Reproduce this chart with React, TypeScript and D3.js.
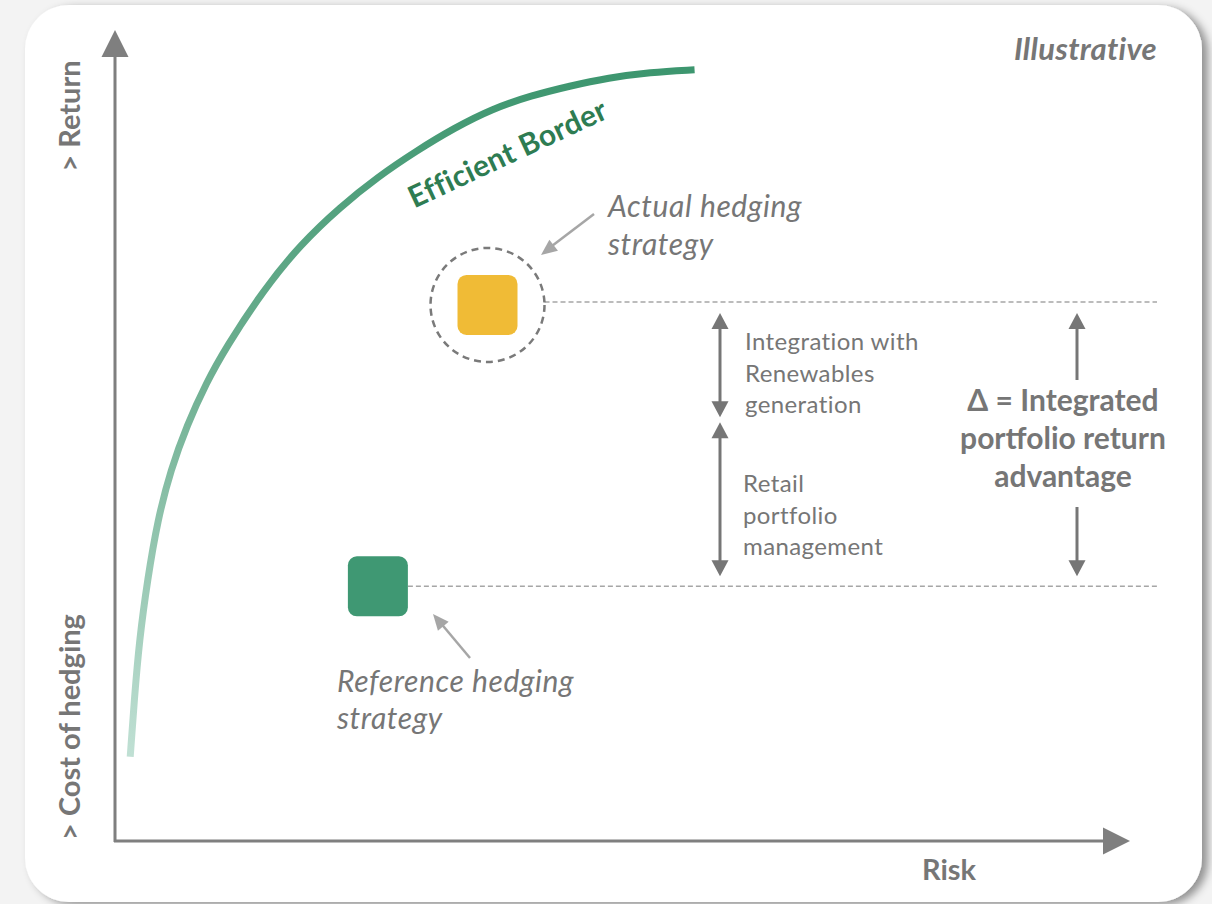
import * as d3 from "d3";

const W = 1212;
const H = 904;

// efficient frontier, illustrative units (risk 0-100, return 0-100)
const frontierRisk = [1.5, 1.9, 2.4, 3.2, 4.2, 5.5, 7.1, 9.0, 10.9, 14.6, 18.3, 22.2, 25.9, 29.7, 33.4, 37.2, 41.0, 44.8, 48.6, 52.7, 57.1];
const frontierReturn = [10.4, 17.4, 24.8, 32.2, 39.6, 45.8, 51.3, 56.5, 60.8, 67.9, 73.6, 78.2, 81.9, 85.1, 87.9, 90.3, 91.9, 93.1, 94.1, 94.8, 95.1];

// the two hedging strategies
const strategyNames = ["Reference hedging", "Actual hedging"];
const strategyRisk = [25.9, 36.7];
const strategyReturn = [31.4, 66.1];
const strategyColors = ["#3f9873", "#f0bb36"];

// split of the return gap between the two strategies
const splitReturn = 52.0;
const splitLabels = [
  ["Integration with", "Renewables", "generation"],
  ["Retail", "portfolio", "management"],
];
const deltaLabel = ["\u0394 = Integrated", "portfolio return", "advantage"];

const GREY = "#767676";
const FONT = "Lato, 'Open Sans', sans-serif";

function head(tx: number, ty: number, fx: number, fy: number, len: number, wid: number) {
  const a = Math.atan2(ty - fy, tx - fx);
  const bx = tx - len * Math.cos(a);
  const by = ty - len * Math.sin(a);
  const nx = -Math.sin(a) * wid / 2;
  const ny = Math.cos(a) * wid / 2;
  return `${tx},${ty} ${bx + nx},${by + ny} ${bx - nx},${by - ny}`;
}

export default function App() {
  const x = d3.scaleLinear([0, 100], [115, 1130]);
  const y = d3.scaleLinear([0, 100], [841, 30]);

  const pts = frontierRisk.map((r, i) => [x(r), y(frontierReturn[i])] as [number, number]);
  const line = d3.line().curve(d3.curveBasis);

  const refX = x(strategyRisk[0]);
  const refY = y(strategyReturn[0]);
  const actX = x(strategyRisk[1]);
  const actY = y(strategyReturn[1]);
  const midY = y(splitReturn);
  const sq = 60;
  const ring = 57;
  const lineEnd = 1157;
  const bx = 720;
  const dx = 1077;

  return (
    <svg width={W} height={H} style={{ position: "absolute", left: 0, top: 0 }} fontFamily={FONT}>
      <defs>
        <filter id="shadow" x="-5%" y="-5%" width="110%" height="110%">
          <feDropShadow dx="6" dy="3" stdDeviation="4" floodColor="#000" floodOpacity="0.4" />
        </filter>
        <linearGradient id="frontierGrad" gradientUnits="userSpaceOnUse" x1="0" y1={pts[0][1]} x2="0" y2={pts[pts.length - 1][1]}>
          <stop offset="0" stopColor="#c0e0d4" />
          <stop offset="0.55" stopColor="#6fb092" />
          <stop offset="1" stopColor="#3d966f" />
        </linearGradient>
      </defs>

      <rect width={W} height={H} fill="#f3f3f3" />
      <rect x={25} y={5} width={1177} height={897} rx={44} fill="#fff" filter="url(#shadow)" />

      {/* axes */}
      <line x1={x(0)} x2={x(0)} y1={y(0) + 1} y2={y(100) + 24} stroke="#7f7f7f" strokeWidth={3} />
      <polygon points={head(x(0), y(100), x(0), y(0), 27, 27)} fill="#7f7f7f" />
      <line x1={x(0) - 1} x2={x(100) - 24} y1={y(0)} y2={y(0)} stroke="#7f7f7f" strokeWidth={3} />
      <polygon points={head(x(100), y(0), x(0), y(0), 27, 27)} fill="#7f7f7f" />

      <text transform="translate(80,116) rotate(-90)" textAnchor="middle" fontSize={29} fontWeight="bold" fill={GREY}>
        &gt; Return
      </text>
      <text transform="translate(80,727) rotate(-90)" textAnchor="middle" fontSize={29} fontWeight="bold" fill={GREY}>
        &gt; Cost of hedging
      </text>
      <text x={949} y={880} textAnchor="middle" fontSize={29} fontWeight="bold" fill={GREY}>
        Risk
      </text>
      <text x={1157} y={60} textAnchor="end" fontSize={31} fontWeight="bold" fontStyle="italic" letterSpacing={0.3} fill={GREY}>
        Illustrative
      </text>

      {/* efficient frontier */}
      <path d={line(pts) ?? ""} fill="none" stroke="url(#frontierGrad)" strokeWidth={7} />
      <text transform="translate(512,163) rotate(-25)" textAnchor="middle" fontSize={30} fontWeight="bold" letterSpacing={0.3} fill="#2e7c52">
        Efficient Border
      </text>

      {/* level guides */}
      <line x1={actX + ring} x2={lineEnd} y1={actY - 3} y2={actY - 3} stroke="#a6a6a6" strokeWidth={1.5} strokeDasharray="5 3" />
      <line x1={refX + sq / 2} x2={lineEnd} y1={refY} y2={refY} stroke="#a6a6a6" strokeWidth={1.5} strokeDasharray="5 3" />

      {/* strategies */}
      <circle cx={actX} cy={actY} r={ring} fill="none" stroke="#7a7a7a" strokeWidth={2.5} strokeDasharray="7 5" />
      {strategyNames.map((n, i) => (
        <rect key={n} x={x(strategyRisk[i]) - sq / 2} y={y(strategyReturn[i]) - sq / 2} width={sq} height={sq} rx={9} fill={strategyColors[i]} />
      ))}

      {/* callouts */}
      <line x1={594} y1={214} x2={548} y2={249} stroke="#a6a6a6" strokeWidth={2.5} />
      <polygon points={head(541, 255, 594, 214, 16, 14)} fill="#a6a6a6" />
      <text x={608} y={217} fontSize={30} fontStyle="italic" letterSpacing={0.6} fill={GREY}>
        <tspan x={608}>{strategyNames[1]}</tspan>
        <tspan x={608} dy={38}>strategy</tspan>
      </text>

      <line x1={470} y1={658} x2={439} y2={621} stroke="#a6a6a6" strokeWidth={2.5} />
      <polygon points={head(433, 614, 470, 658, 16, 14)} fill="#a6a6a6" />
      <text x={337} y={692} fontSize={30} fontStyle="italic" letterSpacing={0.6} fill={GREY}>
        <tspan x={337}>{strategyNames[0]}</tspan>
        <tspan x={337} dy={37}>strategy</tspan>
      </text>

      {/* gap split arrows */}
      {[
        [actY + 8, midY - 2],
        [midY + 3, refY - 10],
      ].map(([a, b], i) => (
        <g key={i}>
          <line x1={bx} x2={bx} y1={a + 10} y2={b - 10} stroke={GREY} strokeWidth={3} />
          <polygon points={head(bx, a, bx, b, 16, 17)} fill={GREY} />
          <polygon points={head(bx, b, bx, a, 16, 17)} fill={GREY} />
        </g>
      ))}
      {splitLabels[0].map((t, i) => (
        <text key={t} x={745} y={350 + i * 31.5} fontSize={24} letterSpacing={0.4} fill={GREY}>{t}</text>
      ))}
      {splitLabels[1].map((t, i) => (
        <text key={t} x={743} y={492 + i * 31.5} fontSize={24} letterSpacing={0.4} fill={GREY}>{t}</text>
      ))}

      {/* total delta */}
      <line x1={dx} x2={dx} y1={380} y2={actY + 18} stroke={GREY} strokeWidth={3} />
      <polygon points={head(dx, actY + 8, dx, 380, 16, 17)} fill={GREY} />
      <line x1={dx} x2={dx} y1={507} y2={refY - 20} stroke={GREY} strokeWidth={3} />
      <polygon points={head(dx, refY - 10, dx, 507, 16, 17)} fill={GREY} />
      {deltaLabel.map((t, i) => (
        <text key={t} x={1063} y={411 + i * 38} textAnchor="middle" fontSize={30} fontWeight="bold" fill={GREY}>{t}</text>
      ))}
    </svg>
  );
}
